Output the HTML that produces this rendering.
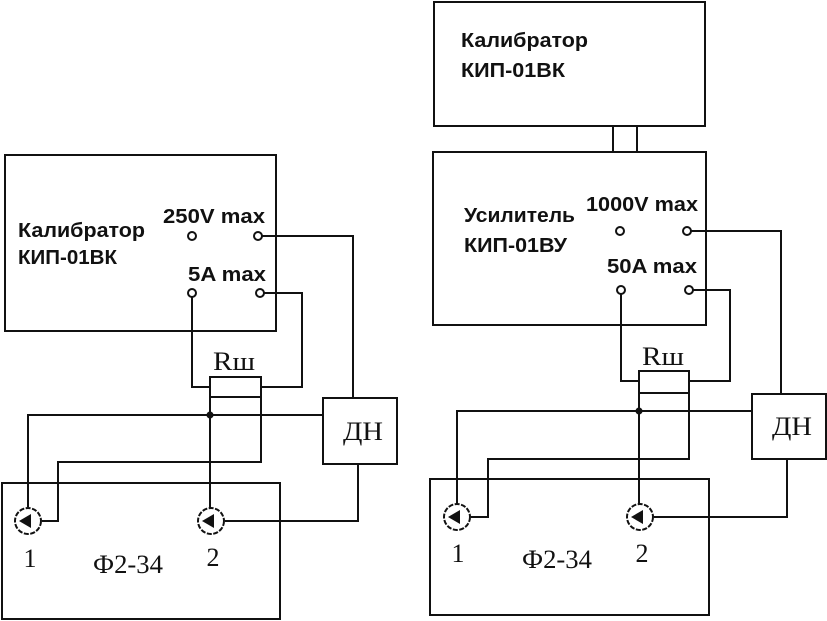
<!DOCTYPE html>
<html><head><meta charset="utf-8"><style>
html,body{margin:0;padding:0;background:#fff;}
svg{display:block;}
.s{font-family:"Liberation Sans","DejaVu Sans",sans-serif;font-weight:bold;font-size:20px;fill:#111;}
.r{font-family:"Liberation Serif",serif;font-size:26px;fill:#111;}
</style></head><body>
<svg width="827" height="621" viewBox="0 0 827 621" xmlns="http://www.w3.org/2000/svg">
<g fill="none" stroke="#111" stroke-width="2">
<!-- LEFT -->
<rect x="5" y="155" width="271" height="176"/>
<polyline points="262,236 353,236 353,398"/>
<polyline points="192,297 192,387 210,387"/>
<polyline points="264,293 302,293 302,387 261,387"/>
<rect x="210" y="377" width="51" height="20"/>
<line x1="210" y1="397" x2="210" y2="508"/>
<polyline points="261,397 261,462 58,462 58,521 42,521"/>
<polyline points="28,507 28,415 323,415"/>
<rect x="323" y="398" width="74" height="66"/>
<polyline points="358,464 358,521 225,521"/>
<rect x="2" y="483" width="278" height="136"/>
<circle cx="28" cy="521" r="13" stroke-dasharray="5,1.5"/>
<circle cx="211" cy="521" r="13" stroke-dasharray="5,1.5"/>
<circle cx="192" cy="236" r="4"/><circle cx="258" cy="236" r="4"/>
<circle cx="192" cy="293" r="4"/><circle cx="260" cy="293" r="4"/>
<!-- RIGHT -->
<rect x="434" y="2" width="271" height="124"/>
<line x1="613" y1="126" x2="613" y2="152"/>
<line x1="637" y1="126" x2="637" y2="152"/>
<rect x="433" y="152" width="273" height="173"/>
<polyline points="691,231 781,231 781,394"/>
<polyline points="621,294 621,381 639,381"/>
<polyline points="693,290 730,290 730,381 689,381"/>
<rect x="639" y="371" width="50" height="22"/>
<line x1="639" y1="393" x2="639" y2="504"/>
<polyline points="689,393 689,459 488,459 488,517 471,517"/>
<polyline points="457,504 457,411 752,411"/>
<rect x="752" y="394" width="74" height="65"/>
<polyline points="787,459 787,517 654,517"/>
<rect x="430" y="479" width="279" height="136"/>
<circle cx="457" cy="517" r="13" stroke-dasharray="5,1.5"/>
<circle cx="640" cy="517" r="13" stroke-dasharray="5,1.5"/>
<circle cx="620" cy="231" r="4"/><circle cx="687" cy="231" r="4"/>
<circle cx="621" cy="290" r="4"/><circle cx="689" cy="290" r="4"/>
</g>
<g fill="#111">
<circle cx="210" cy="415" r="3.5"/>
<circle cx="639" cy="411" r="3.5"/>
<polygon points="19,521 31,514 31,528"/>
<polygon points="202,521 214,514 214,528"/>
<polygon points="448,517 460,510 460,524"/>
<polygon points="631,517 643,510 643,524"/>
</g>
<text class="s" x="163" y="223" textLength="102" lengthAdjust="spacingAndGlyphs">250V max</text>
<text class="s" x="18" y="237" textLength="127" lengthAdjust="spacingAndGlyphs">Калибратор</text>
<text class="s" x="18" y="264" textLength="99" lengthAdjust="spacingAndGlyphs">КИП-01ВК</text>
<text class="s" x="188" y="281" textLength="78" lengthAdjust="spacingAndGlyphs">5A max</text>
<text class="r" x="234" y="370" text-anchor="middle" textLength="42" lengthAdjust="spacingAndGlyphs">Rш</text>
<text class="r" x="363" y="440" text-anchor="middle" textLength="40" lengthAdjust="spacingAndGlyphs">ДН</text>
<text class="r" x="30" y="567" text-anchor="middle">1</text>
<text class="r" x="128" y="573" text-anchor="middle" textLength="70" lengthAdjust="spacingAndGlyphs">Ф2-34</text>
<text class="r" x="213" y="566" text-anchor="middle">2</text>
<text class="s" x="461" y="47" textLength="127" lengthAdjust="spacingAndGlyphs">Калибратор</text>
<text class="s" x="461" y="77" textLength="104" lengthAdjust="spacingAndGlyphs">КИП-01ВК</text>
<text class="s" x="586" y="211" textLength="112" lengthAdjust="spacingAndGlyphs">1000V max</text>
<text class="s" x="464" y="222" textLength="111" lengthAdjust="spacingAndGlyphs">Усилитель</text>
<text class="s" x="464" y="252" textLength="103" lengthAdjust="spacingAndGlyphs">КИП-01ВУ</text>
<text class="s" x="607" y="273" textLength="90" lengthAdjust="spacingAndGlyphs">50A max</text>
<text class="r" x="663" y="365" text-anchor="middle" textLength="42" lengthAdjust="spacingAndGlyphs">Rш</text>
<text class="r" x="792" y="435" text-anchor="middle" textLength="40" lengthAdjust="spacingAndGlyphs">ДН</text>
<text class="r" x="458" y="562" text-anchor="middle">1</text>
<text class="r" x="557" y="568" text-anchor="middle" textLength="70" lengthAdjust="spacingAndGlyphs">Ф2-34</text>
<text class="r" x="642" y="562" text-anchor="middle">2</text>
</svg>
</body></html>
